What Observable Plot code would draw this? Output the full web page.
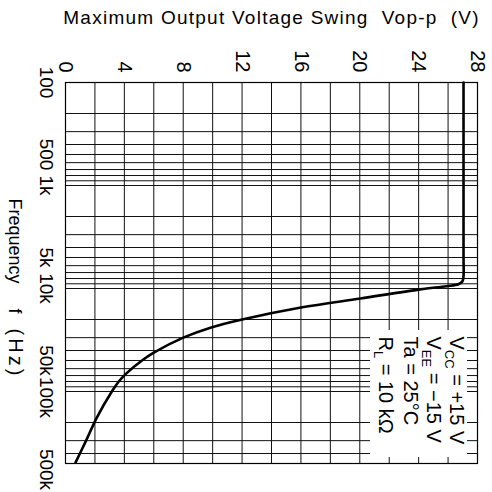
<!DOCTYPE html>
<html>
<head>
<meta charset="utf-8">
<script src="https://cdn.jsdelivr.net/npm/d3@7"></script>
<script src="https://cdn.jsdelivr.net/npm/@observablehq/plot@0.6"></script>
<style>
  html, body { margin: 0; padding: 0; background: white; }
  svg text { white-space: pre; }
</style>
</head>
<body>
<div id="chart"></div>
<script>
// ---- data ----
const titleText = "Maximum Output Voltage Swing  Vop-p  (V)";
const freqAxisMain = "Frequency     f   ";
const freqAxisUnit = "(Hz)";

const voltTicks = [0, 4, 8, 12, 16, 20, 24, 28];
const voltGrid = [0, 2, 4, 6, 8, 10, 12, 14, 16, 18, 20, 22, 24, 26, 28];

const freqTicks = [100, 500, 1000, 5000, 10000, 50000, 100000, 500000];
const freqTickLabels = ["100", "500", "1k", "5k", "10k", "50k", "100k", "500k"];
const gridMantissas = [1, 2, 3, 4, 5, 6, 7, 8, 9];
const gridDecades = [100, 1000, 10000, 100000];

// curve: frequency (Hz) and maximum output voltage swing (Vp-p)
const curveFreq = [100, 1000, 5000, 7600, 8500, 9100, 9500, 10200, 12500, 15300, 20000, 24000, 30000, 42000, 50000, 67000, 80000, 100000, 180000, 300000, 490000];
const curveVolt = [27.05, 27.05, 27.05, 27.05, 26.98, 26.7, 25.9, 24.1, 20.05, 16.0, 12.0, 9.85, 8.0, 6.0, 5.2, 4.12, 3.62, 3.15, 2.12, 1.4, 0.68];

// conditions note
const noteMain = ["V", "V", "Ta = 25°C", "R"];
const noteSub = ["CC", "EE", "", "L"];
const noteRest = [" = +15 V", " = −15 V", "", " = 10 kΩ"];
// white box behind the note (data units)
const noteBoxVolt = [20.73, 27.32];
const noteBoxFreq = [25600, 437000];

// ---- build ----
const freqGrid = gridDecades.flatMap(d => gridMantissas.map(m => m * d)).filter(f => f <= 500000);
const curve = curveFreq.map((f, i) => ({f, v: curveVolt[i]}));
const noteFull = noteMain.map((m, i) => m + noteSub[i] + noteRest[i]);
const noteBox = [{x1: noteBoxVolt[0], x2: noteBoxVolt[1], y1: noteBoxFreq[0], y2: noteBoxFreq[1]}];
const freqLabelData = freqTicks.map((f, i) => ({f, label: freqTickLabels[i]}));
const freqAxisFull = freqAxisMain + freqAxisUnit;

const noteMarks = noteFull.map((t, i) =>
  Plot.text([t], {
    frameAnchor: "bottom-right", rotate: 90, textAnchor: "start", lineAnchor: "middle",
    dx: [-21, -44, -67, -92][i], dy: -127, fontSize: 20
  })
);

const freqLabelOpts = {y: "f", text: "label", frameAnchor: "left", rotate: 90, textAnchor: "middle", lineAnchor: "middle", dx: -19.5, fontSize: 19};

const plot = Plot.plot({
  width: 492,
  height: 492,
  marginLeft: 65,
  marginRight: 15,
  marginTop: 82,
  marginBottom: 29,
  style: {fontFamily: "'Liberation Sans', Arial, sans-serif", background: "white", color: "black", overflow: "visible"},
  x: {domain: [0, 28], axis: null},
  y: {type: "log", domain: [100, 500000], reverse: true, axis: null},
  marks: [
    Plot.ruleX(voltGrid, {x: d => d, stroke: "#111", strokeWidth: 1}),
    Plot.ruleY(freqGrid, {y: d => d, stroke: "#111", strokeWidth: 1}),
    Plot.rect(noteBox, {x1: "x1", x2: "x2", y1: "y1", y2: "y2", fill: "white"}),
    Plot.frame({stroke: "black", strokeWidth: 1.2}),
    Plot.line(curve, {x: "v", y: "f", curve: "catmull-rom", stroke: "black", strokeWidth: 2.6}),
    // voltage tick labels (rotated)
    Plot.text(voltTicks, {x: d => d, frameAnchor: "top", rotate: 90, textAnchor: "end", lineAnchor: "middle", dy: -10, fontSize: 20}),
    // frequency tick labels (rotated)
    Plot.text(freqLabelData.filter(d => d.f < 100000), freqLabelOpts),
    Plot.text(freqLabelData.filter(d => d.f >= 100000), {...freqLabelOpts, dy: 6}),
    // frequency axis label
    Plot.text([freqAxisFull], {frameAnchor: "left", rotate: 90, textAnchor: "start", lineAnchor: "middle", dx: -51, dy: -74.5, fontSize: 18}),
    // title
    Plot.text([titleText], {frameAnchor: "top", textAnchor: "middle", lineAnchor: "middle", dy: -65, fontSize: 19}),
    ...noteMarks
  ]
});

document.getElementById("chart").appendChild(plot);

// letter spacing for the title, unit styling, subscripts for the note
d3.select(plot).selectAll("text").each(function() {
  const el = d3.select(this);
  const t = this.textContent;
  if (t === titleText) el.style("letter-spacing", "1.25px");
  if (t === freqAxisFull) {
    el.text(null);
    el.append("tspan").text(freqAxisMain);
    el.append("tspan").attr("font-size", 20).style("letter-spacing", "3px").text(freqAxisUnit);
  }
  const idx = noteFull.indexOf(t);
  if (idx >= 0 && noteSub[idx]) {
    el.text(null);
    el.append("tspan").text(noteMain[idx]);
    el.append("tspan").attr("dy", 5).attr("font-size", 13).text(noteSub[idx]);
    el.append("tspan").attr("dy", -5).text(noteRest[idx]);
  }
});
</script>
</body>
</html>
